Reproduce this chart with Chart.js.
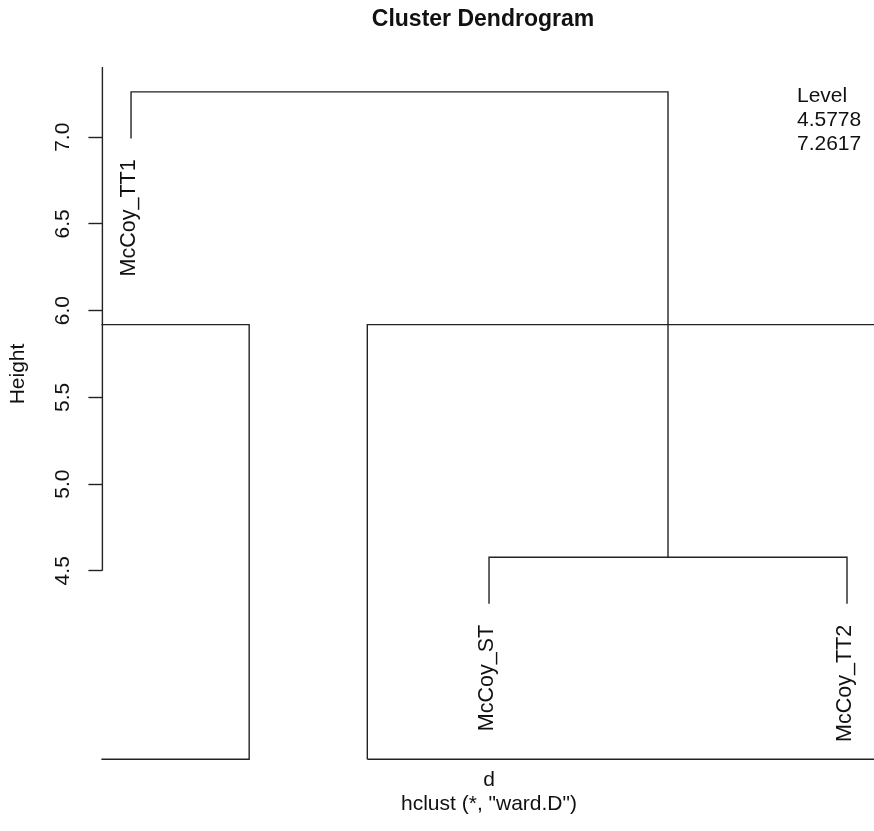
<!DOCTYPE html>
<html>
<head>
<meta charset="utf-8">
<title>Cluster Dendrogram</title>
<script src="https://cdn.jsdelivr.net/npm/chart.js@4.4.0/dist/chart.umd.min.js"></script>
<style>
  html, body { margin: 0; padding: 0; background: #fff; }
  #wrap { width: 874px; height: 831px; }
</style>
</head>
<body>
<div id="wrap"><canvas id="dendro" width="874" height="831"></canvas></div>
<script>
// leaves, left to right
const leafNames = ["McCoy_TT1", "McCoy_ST", "McCoy_TT2"];
const leafPos = [1, 2, 3];
const leafEnds = [6.9933, 4.3094, 4.3094];

// merge heights (also shown in the "Level" list)
const mergeHeights = [4.5778, 7.2617];
const levelLabels = ["Level", "4.5778", "7.2617"];

// rect.hclust style boxes for k = 2
const cutHeight = 5.9197;
const clusterSpans = [[0.66, 1.33], [1.66, 3.33]];

// axis
const yTicks = [4.5, 5.0, 5.5, 6.0, 6.5, 7.0];
const xRange = [0.92, 3.0754];
const yRange = [3.413, 7.405];

const FONT = "'Liberation Sans', Arial, Helvetica, sans-serif";
const INK = "#222";

/* --------------------------------------------------
   BUILD LINE PATHS
-------------------------------------------------- */
const innerX = (leafPos[1] + leafPos[2]) / 2;

const mergeLow = [
    { x: leafPos[1], y: leafEnds[1] },
    { x: leafPos[1], y: mergeHeights[0] },
    { x: leafPos[2], y: mergeHeights[0] },
    { x: leafPos[2], y: leafEnds[2] }
];
const mergeTop = [
    { x: leafPos[0], y: leafEnds[0] },
    { x: leafPos[0], y: mergeHeights[1] },
    { x: innerX, y: mergeHeights[1] },
    { x: innerX, y: mergeHeights[0] }
];
const boxes = clusterSpans.map(([a, b]) => [
    { x: a, y: yRange[0] },
    { x: a, y: cutHeight },
    { x: b, y: cutHeight },
    { x: b, y: yRange[0] },
    { x: a, y: yRange[0] }
]);
const axisLine = [
    { x: xRange[0], y: yTicks[0] },
    { x: xRange[0], y: yRange[1] }
];

function path(data, extra) {
    return Object.assign({
        data: data,
        showLine: true,
        borderColor: INK,
        borderWidth: 1.4,
        pointRadius: 0,
        pointHitRadius: 0,
        tension: 0,
        fill: false
    }, extra || {});
}

/* --------------------------------------------------
   TEXT: title, axis captions, leaf labels, level list
-------------------------------------------------- */
const textPlugin = {
    id: "dendroText",
    afterDraw(chart) {
        const ctx = chart.ctx;
        const xs = chart.scales.x;
        const ys = chart.scales.y;
        ctx.save();
        ctx.fillStyle = "#111";

        ctx.font = "bold 23px " + FONT;
        ctx.textAlign = "center";
        ctx.textBaseline = "middle";
        ctx.fillText("Cluster Dendrogram", 483, 20);

        ctx.font = "21px " + FONT;
        ctx.fillText("d", 489, 780);
        ctx.fillText('hclust (*, "ward.D")', 489, 804);

        ctx.save();
        ctx.translate(18, 374);
        ctx.rotate(-Math.PI / 2);
        ctx.fillText("Height", 0, 0);
        ctx.restore();

        // leaf labels hang under each leaf end
        ctx.font = "21.5px " + FONT;
        leafNames.forEach((name, i) => {
            const px = xs.getPixelForValue(leafPos[i]);
            const py = ys.getPixelForValue(leafEnds[i]) + 21;
            ctx.save();
            ctx.translate(px - 2, py);
            ctx.rotate(-Math.PI / 2);
            ctx.textAlign = "right";
            ctx.textBaseline = "middle";
            ctx.fillText(name, 0, 0);
            ctx.restore();
        });

        ctx.font = "21px " + FONT;
        ctx.textAlign = "left";
        levelLabels.forEach((t, i) => {
            ctx.fillText(t, 797, 96 + i * 24);
        });
        ctx.restore();
    }
};

/* --------------------------------------------------
   CHART
-------------------------------------------------- */
new Chart(document.getElementById("dendro"), {
    type: "scatter",
    data: {
        datasets: [
            path(axisLine, { clip: false }),
            path(mergeTop),
            path(mergeLow),
            path(boxes[0], { clip: { left: 1, right: 1, top: 1, bottom: 4 } }),
            path(boxes[1], { clip: { left: 1, right: 1, top: 1, bottom: 4 } })
        ]
    },
    options: {
        responsive: false,
        devicePixelRatio: 1,
        animation: false,
        events: [],
        layout: { padding: { top: 67, bottom: 71.7, left: 0, right: 0 } },
        plugins: {
            legend: { display: false },
            tooltip: { enabled: false },
            title: { display: false }
        },
        scales: {
            x: {
                type: "linear",
                display: false,
                min: xRange[0],
                max: xRange[1]
            },
            y: {
                type: "linear",
                min: yRange[0],
                max: yRange[1],
                afterBuildTicks: (scale) => {
                    scale.ticks = yTicks.map(v => ({ value: v }));
                },
                afterFit: (scale) => {
                    scale.width = 102.4;
                },
                border: { display: false },
                grid: {
                    drawOnChartArea: false,
                    drawTicks: true,
                    tickLength: 14,
                    tickColor: INK,
                    tickWidth: 1.4
                },
                ticks: {
                    minRotation: 90,
                    maxRotation: 90,
                    crossAlign: "center",
                    padding: 11,
                    color: "#111",
                    font: { family: FONT, size: 21 },
                    callback: (v) => Number(v).toFixed(1)
                }
            }
        }
    },
    plugins: [textPlugin]
});
</script>
</body>
</html>
